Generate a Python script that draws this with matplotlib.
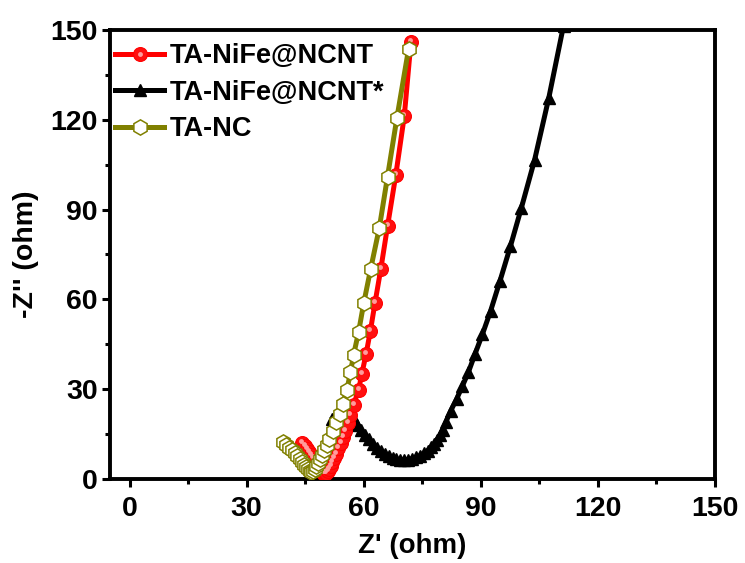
import matplotlib
matplotlib.use("Agg")
import matplotlib.pyplot as plt
from matplotlib.legend_handler import HandlerTuple
from matplotlib.transforms import ScaledTranslation

plt.rcParams['font.family'] = ['Liberation Sans', 'DejaVu Sans']
plt.rcParams['font.weight'] = 'bold'

# Nyquist data, Z' (ohm) and -Z'' (ohm)
nife_x = [44.2, 44.9, 45.5, 46.1, 46.6, 47.1, 47.6, 48.0, 48.4, 48.8, 49.2, 49.6,
          50.0, 50.4, 50.8, 51.2, 51.6, 52.0, 52.5, 53.0, 53.5, 54.1, 54.7, 55.3,
          55.9, 56.6, 57.4, 58.7, 59.5, 60.6, 61.7, 62.9, 64.4, 66.1, 68.2, 70.4, 72.1]
nife_y = [12.0, 11.0, 10.0, 9.0, 8.0, 7.0, 6.0, 5.0, 4.1, 3.3, 2.6, 2.1,
          1.9, 2.1, 2.6, 3.4, 4.4, 5.6, 7.0, 8.5, 10.2, 12.0, 14.0, 16.2,
          18.6, 21.4, 24.8, 29.8, 35.0, 41.7, 49.4, 58.9, 70.3, 84.4, 101.4, 121.3, 146.0]

nife_star_x = [52.0, 53.5, 55.0, 56.3, 57.4, 58.4, 59.4, 60.4, 61.4, 62.4, 63.4, 64.4,
               65.4, 66.4, 67.4, 68.4, 69.4, 70.4, 71.4, 72.4, 73.4, 74.4, 75.4, 76.4,
               77.3, 78.1, 78.8, 79.5, 80.2, 81.1, 82.3, 83.8, 85.3, 86.8, 88.5, 90.4,
               92.5, 94.9, 97.6, 100.4, 103.8, 107.4, 111.2]
nife_star_y = [20.0, 20.5, 21.0, 21.0, 20.0, 18.2, 16.5, 14.8, 13.2, 11.8, 10.5, 9.4,
               8.4, 7.6, 7.0, 6.6, 6.4, 6.4, 6.5, 6.8, 7.2, 7.8, 8.6, 9.5,
               10.6, 11.8, 13.1, 14.6, 16.4, 19.2, 22.8, 26.7, 31.1, 35.6, 41.7, 48.3,
               56.1, 66.1, 77.8, 90.6, 106.7, 127.2, 151.5]

nc_x = [39.3, 40.1, 40.9, 41.6, 42.3, 43.0, 43.6, 44.2, 44.8, 45.3, 45.8, 46.2,
        46.6, 47.0, 47.4, 47.9, 48.3, 48.8, 49.3, 49.9, 50.5, 51.2, 52.1, 52.9,
        53.8, 54.6, 55.7, 56.6, 57.4, 58.7, 60.0, 61.8, 64.0, 66.1, 68.5, 71.5]
nc_y = [12.4, 11.4, 10.5, 9.6, 8.6, 7.6, 6.6, 5.6, 4.7, 3.9, 3.2, 2.7,
        2.5, 2.7, 3.3, 4.2, 5.3, 6.6, 8.0, 9.6, 11.4, 13.3, 16.1, 18.9,
        21.7, 25.0, 29.8, 35.6, 41.4, 49.2, 58.7, 70.3, 83.9, 101.0, 120.6, 143.7]

labels = ['TA-NiFe@NCNT', 'TA-NiFe@NCNT*', 'TA-NC']
xticks = [0, 30, 60, 90, 120, 150]
yticks = [0, 30, 60, 90, 120, 150]

fig = plt.figure(figsize=(7.45, 5.63), dpi=100)
ax = fig.add_axes([110 / 745, 1 - 479 / 563, 605 / 745, 449 / 563])

blk_line, = ax.plot(nife_star_x, nife_star_y, color='black', lw=3.6, marker='^',
                    ms=9, mfc='black', mec='black', zorder=3)
red_line, = ax.plot(nife_x, nife_y, color='#ff0000', lw=3.6, marker='o', ms=10,
                    mfc='#ff1010', mec='#ff0000', mew=0.8, zorder=4)
# specular highlight on the red spheres
hi_off = ax.transData + ScaledTranslation(-1 / 100, 2 / 100, fig.dpi_scale_trans)
red_hi, = ax.plot(nife_x, nife_y, ls='none', marker='o', ms=3.5, mfc='#ff9c9c',
                  mec='none', transform=hi_off, zorder=4.1)
nc_line, = ax.plot(nc_x, nc_y, color='#808000', lw=3.6, marker='h', ms=11,
                   mfc='white', mec='#808000', mew=1.1, zorder=5)

ax.set_xlim(-5, 150)
ax.set_ylim(0, 150)
ax.set_xticks(xticks)
ax.set_yticks(yticks)
ax.set_xticks([15, 45, 75, 105, 135], minor=True)
ax.set_yticks([15, 45, 75, 105, 135], minor=True)

for s in ax.spines.values():
    s.set_linewidth(2.8)
ax.tick_params(which='major', direction='out', length=6, width=2.2,
               labelsize=20.5, pad=3)
ax.tick_params(axis='x', which='major', pad=6)
ax.tick_params(which='minor', direction='out', length=3.5, width=2.2)
for lab in ax.get_xticklabels() + ax.get_yticklabels():
    lab.set_fontweight('bold')

ax.set_xlabel("Z' (ohm)", fontsize=20, fontweight='bold', labelpad=8)
ax.set_ylabel("-Z'' (ohm)", fontsize=20.5, fontweight='bold', labelpad=8)

leg = ax.legend([(red_line, red_hi), blk_line, nc_line], labels,
                handler_map={tuple: HandlerTuple(ndivide=1)},
                loc='upper left', bbox_to_anchor=(0.0, 0.982), frameon=False,
                fontsize=19.5, numpoints=1, handlelength=1.8, handletextpad=0.2,
                labelspacing=0.38, borderaxespad=0.0, borderpad=0.2)
for t in leg.get_texts():
    t.set_fontweight('bold')

fig.savefig('out.png', dpi=100)
